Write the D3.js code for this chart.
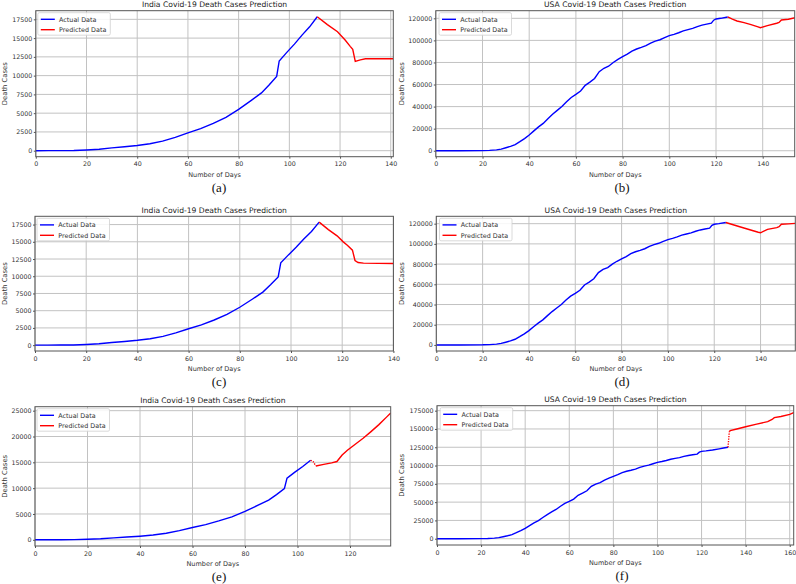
<!DOCTYPE html>
<html><head><meta charset="utf-8">
<script src="https://cdn.jsdelivr.net/npm/d3@7"></script>
<style>
body{margin:0;background:#fff;}
svg{display:block;}
text{font-family:"DejaVu Sans",sans-serif;}
</style></head><body>
<svg id="chart" width="796" height="584"></svg>
<script>
// ---------- data ----------
const indiaTitle = "India Covid-19 Death Cases Prediction";
const usaTitle = "USA Covid-19 Death Cases Prediction";
const seriesNames = ["Actual Data", "Predicted Data"];
const xLabel = "Number of Days";
const yLabel = "Death Cases";

const indiaActualDays   = [0,5,10,15,20,25,30,35,40,45,50,55,60,65,70,75,80,85,89,92,95,96,99,102,105,108,111];
const indiaActualDeaths = [2,5,12,30,100,200,380,530,700,920,1280,1780,2380,2950,3650,4450,5500,6700,7700,8750,9900,11950,13100,14200,15400,16500,17850];

const indiaPredDaysA   = [111,115,119,122,124,125,126,128,130,141];
const indiaPredDeathsA = [17850,16800,15850,14750,13900,13500,11900,12100,12250,12250];
const indiaPredDaysC   = [111,114.6,118,120.4,122,124,125,126.2,128.3,140];
const indiaPredDeathsC = [17850,16770,15860,14990,14510,13790,12290,12000,11900,11860];
const indiaPredDaysE   = [105,106,107,110,113,115,117,119,122,125,128,131,134,135.5];
const indiaPredDeathsE = [15400,15100,14300,14600,14900,15150,16400,17350,18500,19650,20950,22300,23800,24550];

const usaActualDays   = [0,10,20,23,26,28,30,32,34,36,38,40,42,44,46,48,50,52,54,56,58,60,62,64,66,68,70,72,74,76,78,80,82,84,86,88,90,92,94,96,98,100,102,104,106,108,110,112,114,116,118,119,120,122,125,128,130,132];
const usaActualDeaths = [0,0,150,350,800,1500,2700,4000,5600,8200,11000,14200,18000,21600,24800,29000,33000,36600,40000,44400,48300,51100,54100,59300,62200,65500,71600,74700,76600,80000,82800,85200,87500,90300,92200,93600,95200,97500,99300,100600,102500,104300,105500,106900,108600,109800,110900,112500,113800,114700,115600,118300,119400,120000,121200,122800,124000,125000];

const usaPredDaysB   = [125,127,129,132,135,138,139,142,146,147,148,151,154];
const usaPredDeathsB = [121200,119200,117600,116100,114300,112300,111500,113400,115500,116200,118500,119200,120600];
const usaPredDaysD   = [125,131,135,139,140,143,147,148,149,152,155];
const usaPredDeathsD = [121200,117000,114200,111500,111000,114400,116100,117000,119400,119800,120300];
const usaPredDaysF   = [132,132.6,133,136,140,145,150,152,153,156,160,162];
const usaPredDeathsF = [125000,146300,147700,150000,153000,156700,160000,163000,165500,167000,170000,172700];

const xTicks140 = [0,20,40,60,80,100,120,140];
const xTicks120 = [0,20,40,60,80,100,120];
const xTicks160 = [0,20,40,60,80,100,120,140,160];
const indiaYTicks17500 = [0,2500,5000,7500,10000,12500,15000,17500];
const indiaYTicks25000 = [0,5000,10000,15000,20000,25000];
const usaYTicks120000 = [0,20000,40000,60000,80000,100000,120000];
const usaYTicks175000 = [0,25000,50000,75000,100000,125000,150000,175000];
const captions = ["(a)","(b)","(c)","(d)","(e)","(f)"];

// ---------- layout ----------
const zip = (a,b) => a.map((d,i)=>[d,b[i]]);
const panels = [
 {title:indiaTitle, L:35.8, R:393.3, T:10.7, B:156.7, xMax:141, yDom:[-800,18650], xTicks:xTicks140, yTicks:indiaYTicks17500,
  act:zip(indiaActualDays,indiaActualDeaths).filter(d=>d[0]<=111), pred:zip(indiaPredDaysA,indiaPredDeathsA), dash:0, capX:219, ylabX:4.5},
 {title:usaTitle, L:435.8, R:794.7, T:10.7, B:156.7, xMax:153.7, yDom:[-5400,126900], xTicks:xTicks140, yTicks:usaYTicks120000,
  act:zip(usaActualDays,usaActualDeaths).filter(d=>d[0]<=125), pred:zip(usaPredDaysB,usaPredDeathsB), dash:0, capX:622, ylabX:401.5},
 {title:indiaTitle, L:35, R:393.4, T:216.3, B:351, xMax:140, yDom:[-850,18700], xTicks:xTicks140, yTicks:indiaYTicks17500,
  act:zip(indiaActualDays,indiaActualDeaths).filter(d=>d[0]<=111), pred:zip(indiaPredDaysC,indiaPredDeathsC), dash:0, capX:219, ylabX:4.5},
 {title:usaTitle, L:436.3, R:795.3, T:216.3, B:351, xMax:155, yDom:[-6000,127300], xTicks:xTicks140, yTicks:usaYTicks120000,
  act:zip(usaActualDays,usaActualDeaths).filter(d=>d[0]<=125), pred:zip(usaPredDaysD,usaPredDeathsD), dash:0, capX:622, ylabX:401.5},
 {title:indiaTitle, L:35, R:390.7, T:406.7, B:546, xMax:135.5, yDom:[-1200,25770], xTicks:xTicks120, yTicks:indiaYTicks25000,
  act:zip(indiaActualDays,indiaActualDeaths).filter(d=>d[0]<=105), pred:zip(indiaPredDaysE,indiaPredDeathsE), dash:2, capX:219, ylabX:4.5},
 {title:usaTitle, L:437, R:793.7, T:405.7, B:545, xMax:161.8, yDom:[-8600,181800], xTicks:xTicks160, yTicks:usaYTicks175000,
  act:zip(usaActualDays,usaActualDeaths), pred:zip(usaPredDaysF,usaPredDeathsF), dash:1, capX:622, ylabX:401.5}
];

const svg = d3.select("#chart");
const defs = svg.append("defs");

panels.forEach((p,i)=>{
  const x = d3.scaleLinear().domain([0,p.xMax]).range([p.L,p.R]);
  const y = d3.scaleLinear().domain(p.yDom).range([p.B,p.T]);
  const g = svg.append("g");
  const cid = "clip"+i;
  defs.append("clipPath").attr("id",cid).append("rect")
    .attr("x",p.L).attr("y",p.T).attr("width",p.R-p.L).attr("height",p.B-p.T);

  // grid
  g.append("g").selectAll("line").data(p.xTicks).join("line")
    .attr("x1",d=>x(d)).attr("x2",d=>x(d)).attr("y1",p.T).attr("y2",p.B)
    .attr("stroke","#c2c2c2").attr("stroke-width",1);
  g.append("g").selectAll("line").data(p.yTicks).join("line")
    .attr("x1",p.L).attr("x2",p.R).attr("y1",d=>y(d)).attr("y2",d=>y(d))
    .attr("stroke","#c2c2c2").attr("stroke-width",1);

  // lines
  const line = d3.line().x(d=>x(d[0])).y(d=>y(d[1]));
  const lg = g.append("g").attr("clip-path",`url(#${cid})`);
  lg.append("path").attr("d",line(p.act)).attr("fill","none").attr("stroke","#0000ff").attr("stroke-width",1.4);
  if (p.dash>0){
    lg.append("path").attr("d",line(p.pred.slice(0,p.dash+1))).attr("fill","none")
      .attr("stroke","#ff0000").attr("stroke-width",1.4).attr("stroke-dasharray","1.3,1.2");
    lg.append("path").attr("d",line(p.pred.slice(p.dash))).attr("fill","none")
      .attr("stroke","#ff0000").attr("stroke-width",1.4);
  } else {
    lg.append("path").attr("d",line(p.pred)).attr("fill","none").attr("stroke","#ff0000").attr("stroke-width",1.4);
  }

  // axes
  const xa = d3.axisBottom(x).tickValues(p.xTicks).tickSize(2).tickPadding(3.3).tickFormat(d3.format("d"));
  const ya = d3.axisLeft(y).tickValues(p.yTicks).tickSize(2).tickPadding(1.5).tickFormat(d3.format("d"));
  const gx = g.append("g").attr("transform",`translate(0,${p.B})`).call(xa);
  const gy = g.append("g").attr("transform",`translate(${p.L},0)`).call(ya);
  [gx,gy].forEach(a=>{
    a.select(".domain").remove();
    a.selectAll(".tick line").attr("stroke","#555");
    a.selectAll(".tick text").attr("fill","#333").style("font-size","6.3px").style("font-family","DejaVu Sans, sans-serif");
  });

  // frame
  g.append("rect").attr("x",p.L).attr("y",p.T).attr("width",p.R-p.L).attr("height",p.B-p.T)
    .attr("fill","none").attr("stroke","#555").attr("stroke-width",1);

  // title & labels
  g.append("text").attr("x",(p.L+p.R)/2).attr("y",p.T-3.5).attr("text-anchor","middle")
    .style("font-size","7.6px").attr("fill","#222").text(p.title);
  g.append("text").attr("x",(p.L+p.R)/2).attr("y",p.B+19.8).attr("text-anchor","middle")
    .style("font-size","6.5px").attr("fill","#333").text(xLabel);
  g.append("text").attr("transform",`translate(${p.ylabX},${(p.T+p.B)/2}) rotate(-90)`).attr("dy","0.35em")
    .attr("text-anchor","middle").style("font-size","6.8px").attr("fill","#333").text(yLabel);
  g.append("text").attr("x",p.capX).attr("y",p.B+35).attr("text-anchor","middle")
    .style("font-family","'Liberation Serif', serif").style("font-size","13px").attr("fill","#111").text(captions[i]);

  // legend
  const lx = p.L + (i%2===0 ? 2 : 3.2), ly = p.T + 2;
  const leg = g.append("g");
  leg.append("rect").attr("x",lx).attr("y",ly).attr("width",72.5).attr("height",22.5).attr("rx",1.5)
    .attr("fill","#fff").attr("fill-opacity",0.85).attr("stroke","#d0d0d0").attr("stroke-width",0.8);
  const cols = ["#0000ff","#ff0000"];
  seriesNames.forEach((s,k)=>{
    const yy = ly + 6.6 + k*10.4;
    leg.append("line").attr("x1",lx+3).attr("x2",lx+17).attr("y1",yy).attr("y2",yy)
      .attr("stroke",cols[k]).attr("stroke-width",1.4);
    leg.append("text").attr("x",lx+21.3).attr("y",yy).attr("dy","0.35em")
      .style("font-size","6.4px").attr("fill","#333").text(s);
  });
});
</script>
</body></html>
